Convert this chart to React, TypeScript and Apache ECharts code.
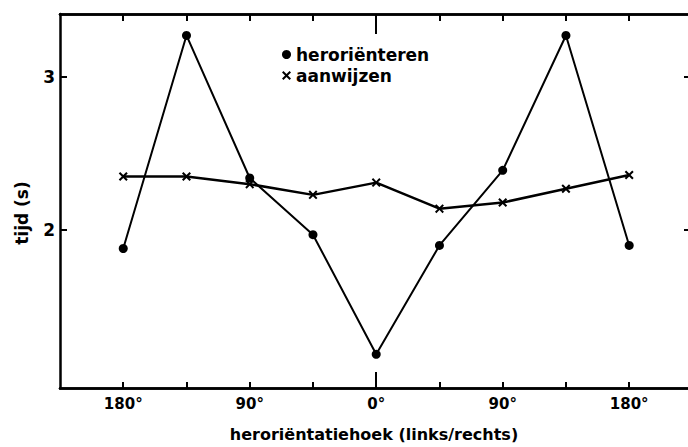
import React, { useEffect, useRef } from "react";
import * as echarts from "echarts";

const positions = [0, 1, 2, 3, 4, 5, 6, 7, 8];
const angleLabels = ["180°", "", "90°", "", "0°", "", "90°", "", "180°"];
const heroriënteren = [1.88, 3.27, 2.34, 1.97, 1.19, 1.9, 2.39, 3.27, 1.9];
const aanwijzen = [2.35, 2.35, 2.3, 2.23, 2.31, 2.14, 2.18, 2.27, 2.36];
const yTicks = [2, 3];
const centerTick = [4];

const FONT = "DejaVu Sans";
const X_PATH =
  "path://M0,1.6L1.6,0L5,3.4L8.4,0L10,1.6L6.6,5L10,8.4L8.4,10L5,6.6L1.6,10L0,8.4L3.4,5Z";

export default function App() {
  const ref = useRef<HTMLDivElement>(null);
  useEffect(() => {
    if (!ref.current) return;
    const chart = echarts.init(ref.current, null, { renderer: "svg" });
    const axisLine = { show: true, onZero: false, lineStyle: { color: "#000", width: 2.5 } };
    const xBase = {
      type: "value" as const,
      min: -1,
      max: 8.93,
      splitLine: { show: false },
      axisLine,
    };
    chart.setOption({
      animation: false,
      backgroundColor: "#fff",
      grid: { left: 60, right: 0, top: 14, height: 377 },
      legend: {
        orient: "vertical",
        left: 277,
        top: 41,
        itemWidth: 9,
        itemHeight: 9,
        itemGap: 4,
        textStyle: { fontFamily: FONT, fontSize: 17, fontWeight: "bold", color: "#000", lineHeight: 17 },
        data: [
          { name: "heroriënteren", icon: "circle" },
          { name: "aanwijzen", icon: X_PATH },
        ],
      },
      xAxis: [
        {
          ...xBase,
          position: "bottom",
          name: "heroriëntatiehoek (links/rechts)",
          nameLocation: "middle",
          nameGap: 38,
          nameTextStyle: { fontFamily: FONT, fontSize: 16, fontWeight: "bold", color: "#000" },
          axisTick: { inside: true, length: 6, lineStyle: { color: "#000", width: 2 }, customValues: positions },
          axisLabel: {
            customValues: positions.filter((p) => angleLabels[p] !== ""),
            formatter: (v: number) => angleLabels[Math.round(v)] ?? "",
            fontFamily: FONT,
            fontSize: 15,
            fontWeight: "bold",
            color: "#000",
            margin: 8,
          },
        },
        {
          ...xBase,
          position: "bottom",
          axisTick: { inside: true, length: 16, lineStyle: { color: "#000", width: 2 }, customValues: centerTick },
          axisLabel: { show: false },
        },
        {
          ...xBase,
          position: "top",
          axisTick: { inside: true, length: 7, lineStyle: { color: "#000", width: 2 }, customValues: positions },
          axisLabel: { show: false },
        },
        {
          ...xBase,
          position: "top",
          axisTick: { inside: true, length: 20, lineStyle: { color: "#000", width: 2 }, customValues: centerTick },
          axisLabel: { show: false },
        },
      ],
      yAxis: [
        {
          type: "value",
          position: "left",
          min: 0.97,
          max: 3.41,
          splitLine: { show: false },
          axisLine,
          name: "tijd (s)",
          nameLocation: "middle",
          nameGap: 30,
          nameTextStyle: {
            fontFamily: FONT,
            fontSize: 17,
            fontWeight: "bold",
            color: "#000",
            padding: [0, 24, 0, 0],
          },
          axisTick: { inside: true, length: 7, lineStyle: { color: "#000", width: 2 }, customValues: yTicks },
          axisLabel: {
            customValues: yTicks,
            fontFamily: FONT,
            fontSize: 17,
            fontWeight: "bold",
            color: "#000",
            margin: 5,
          },
        },
        {
          type: "value",
          position: "right",
          min: 0.97,
          max: 3.41,
          splitLine: { show: false },
          axisLine: { show: false, onZero: false },
          axisTick: { show: true, inside: true, length: 4, lineStyle: { color: "#000", width: 2 }, customValues: yTicks },
          axisLabel: { show: false },
        },
      ],
      series: [
        {
          name: "heroriënteren",
          type: "line",
          data: positions.map((p, i) => [p, heroriënteren[i]]),
          symbol: "circle",
          symbolSize: 9,
          lineStyle: { color: "#000", width: 2 },
          itemStyle: { color: "#000" },
        },
        {
          name: "aanwijzen",
          type: "line",
          data: positions.map((p, i) => [p, aanwijzen[i]]),
          symbol: X_PATH,
          symbolSize: 9,
          lineStyle: { color: "#000", width: 2.5 },
          itemStyle: { color: "#000" },
        },
      ],
    });
    return () => chart.dispose();
  }, []);
  return (
    <div
      ref={ref}
      style={{ position: "fixed", left: 0, top: 0, width: 688, height: 447, background: "#fff" }}
    />
  );
}
